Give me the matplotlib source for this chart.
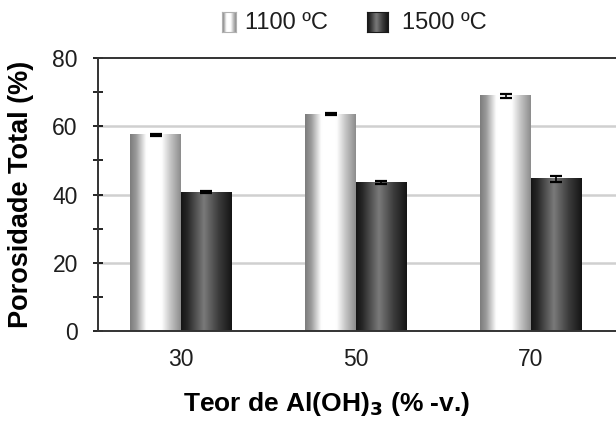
import matplotlib
matplotlib.use("Agg")

import numpy as np
import matplotlib.pyplot as plt
from matplotlib.colors import LinearSegmentedColormap

# Dados: porosidade total por teor de Al(OH)3 e temperatura
teor = ['30', '50', '70']
poros_1100 = [57.5, 63.5, 68.9]
erro_1100 = [0.3, 0.3, 0.6]
poros_1500 = [40.6, 43.5, 44.6]
erro_1500 = [0.3, 0.4, 0.8]
legendas = ['1100 ºC', '1500 ºC']

plt.rcParams['font.family'] = ['Liberation Sans', 'DejaVu Sans']

# Gradientes "cilindricos" das barras
cmap_claro = LinearSegmentedColormap.from_list('claro', [
    (0.0, '#7c7c7c'), (0.12, '#9a9a9a'), (0.32, '#ffffff'),
    (0.62, '#ffffff'), (0.8, '#c4c4c4'), (1.0, '#8c8c8c')])
cmap_escuro = LinearSegmentedColormap.from_list('escuro', [
    (0.0, '#141414'), (0.12, '#262626'), (0.45, '#7a7a7a'),
    (0.75, '#3a3a3a'), (1.0, '#141414')])
grad = np.linspace(0, 1, 256).reshape(1, -1)

fig = plt.figure(figsize=(6.16, 4.21), dpi=100)
ax = fig.add_axes([98 / 616, 90 / 421, 1 - 98 / 616, 273 / 421])

x = np.arange(len(teor))
largura = 0.29


def barra_gradiente(ax, x0, altura, cmap):
    ax.imshow(grad, extent=[x0, x0 + largura, 0, altura], aspect='auto',
              cmap=cmap, interpolation='bicubic', zorder=2)


for i in range(len(teor)):
    barra_gradiente(ax, x[i] - largura, poros_1100[i], cmap_claro)
    barra_gradiente(ax, x[i], poros_1500[i], cmap_escuro)

ax.errorbar(x - largura / 2, poros_1100, yerr=erro_1100, fmt='none',
            ecolor='black', elinewidth=1.2, capsize=4, capthick=1.6, zorder=3)
ax.errorbar(x + largura / 2, poros_1500, yerr=erro_1500, fmt='none',
            ecolor='black', elinewidth=1.2, capsize=4, capthick=1.6, zorder=3)

ax.set_xlim(-0.474, 2.486)
ax.set_ylim(0, 80)
ax.set_xticks(x)
ax.set_xticklabels(teor)
ax.set_yticks([0, 20, 40, 60, 80])
ax.set_yticks([10, 30, 50, 70], minor=True)
ax.tick_params(axis='x', length=0, pad=12, labelsize=16.5, colors='#1e1e1e')
ax.tick_params(axis='y', which='both', direction='inout', length=7,
               width=1.2, pad=11, labelsize=16.5, labelcolor='#1e1e1e')

for y in [20, 40, 60]:
    ax.axhline(y, color='#d0d0d0', lw=1.8, zorder=1)

for lado in ['left', 'bottom', 'top']:
    ax.spines[lado].set_linewidth(1.4)
    ax.spines[lado].set_color('#333333')
ax.spines['right'].set_visible(False)

ax.set_ylabel('Porosidade Total (%)', fontsize=19.5, fontweight='bold')
ax.yaxis.set_label_coords((34 - 98) / 518, 0.5)
ax.set_xlabel('Teor de Al(OH)$_\\mathbf{3}$ (% -v.)', fontsize=19,
              fontweight='bold')
ax.xaxis.set_label_coords((327 - 98) / 518, (331 - 390) / 273)

# Legenda desenhada com pequenos eixos para mostrar o gradiente
for cx, w, cmap, borda, txt, tx in [
        (222, 14, cmap_claro, '#b0b0b0', legendas[0], 245),
        (367, 21, cmap_escuro, '#1a1a1a', legendas[1], 402)]:
    lax = fig.add_axes([cx / 616, 1 - 32 / 421, w / 616, 20 / 421])
    lax.imshow(grad, aspect='auto', cmap=cmap, interpolation='bicubic')
    lax.set_xticks([])
    lax.set_yticks([])
    for s in lax.spines.values():
        s.set_color(borda)
        s.set_linewidth(0.8)
    fig.text(tx / 616, 1 - 23 / 421, txt, fontsize=17, va='center',
             ha='left', color='#1e1e1e')

fig.savefig('out.png', dpi=100)
